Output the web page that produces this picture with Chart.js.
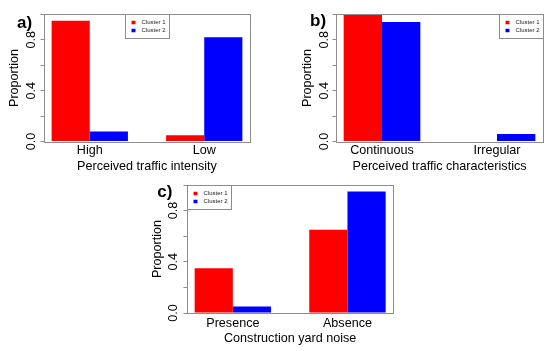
<!DOCTYPE html>
<html>
<head>
<meta charset="utf-8">
<script src="https://cdn.jsdelivr.net/npm/chart.js@4"></script>
<style>
  body { margin: 0; background: #fff; }
  #wrap { position: relative; width: 550px; height: 351px; }
  canvas { position: absolute; }
</style>
</head>
<body>
<div id="wrap">
  <canvas id="chartA" width="275" height="175" style="left:0;top:0"></canvas>
  <canvas id="chartB" width="275" height="175" style="left:275px;top:0"></canvas>
  <canvas id="chartC" width="275" height="176" style="left:140px;top:175px"></canvas>
</div>
<script>
const seriesNames = ["Cluster 1", "Cluster 2"];
const seriesColors = ["#ff0000", "#0000ff"];

const intensityLabels = ["High", "Low"];
const intensityC1 = [0.95, 0.05];
const intensityC2 = [0.08, 0.82];

const characterLabels = ["Continuous", "Irregular"];
const characterC1 = [1.0, 0.0];
const characterC2 = [0.94, 0.06];

const yardLabels = ["Presence", "Absence"];
const yardC1 = [0.35, 0.65];
const yardC2 = [0.05, 0.95];

const yTicks = [0, 0.2, 0.4, 0.6, 0.8, 1.0];
const yTickLabels = ["0.0", "", "0.4", "", "0.8", ""];

Chart.defaults.font.family = '"Liberation Sans", Arial, sans-serif';
Chart.defaults.font.size = 12.6;
Chart.defaults.color = "#000";

// frame, small legend box and panel letter, drawn the way R does it
const rDecor = {
  id: "rDecor",
  afterDraw(chart, args, o) {
    const ctx = chart.ctx, a = chart.chartArea;
    ctx.save();
    ctx.strokeStyle = "#8c8c8c";
    ctx.lineWidth = 1;
    const l = Math.round(a.left) + 0.5, t = Math.round(a.top) + 0.5;
    ctx.strokeRect(l, t, Math.round(a.right) - Math.round(a.left), Math.round(a.bottom) - Math.round(a.top));

    ctx.font = '6px "Liberation Sans", Arial, sans-serif';
    const sets = chart.data.datasets;
    const tw = Math.max(...sets.map(d => ctx.measureText(d.label).width));
    const w = Math.round(tw + 20), h = Math.round(sets.length * 8 + 7.5);
    let lx = (a.left + a.right - w) / 2;
    if (o.legend === "topleft") lx = a.left;
    if (o.legend === "topright") lx = a.right - w;
    lx = Math.round(lx) + 0.5;
    ctx.strokeRect(lx, t, w, h);
    ctx.textBaseline = "middle";
    sets.forEach((d, i) => {
      const cy = t + 8 + i * 8;
      ctx.fillStyle = d.backgroundColor;
      ctx.fillRect(lx + 6, cy - 1.75, 4, 3.5);
      ctx.fillStyle = "#222";
      ctx.fillText(d.label, lx + 16, cy);
    });

    ctx.font = 'bold 17px "Liberation Sans", Arial, sans-serif';
    ctx.fillStyle = "#000";
    ctx.textBaseline = "alphabetic";
    ctx.fillText(o.tag, a.left + o.tagDx, a.top + o.tagDy);
    ctx.restore();
  }
};

function panel(id, cats, c1, c2, xTitle, o) {
  // R barplot layout: two bars per group, one bar of space between groups
  const pos = i => i * 3 + 2;
  new Chart(document.getElementById(id), {
    type: "bar",
    data: {
      datasets: [c1, c2].map((vals, k) => ({
        label: seriesNames[k],
        data: vals.map((v, i) => ({ x: pos(i), y: v })),
        backgroundColor: seriesColors[k],
        borderWidth: 0,
        categoryPercentage: 2 / 3,
        barPercentage: 1
      }))
    },
    options: {
      responsive: false,
      animation: false,
      layout: { padding: { top: o.top, right: o.right, left: 0, bottom: 0 } },
      plugins: {
        legend: { display: false },
        tooltip: { enabled: false },
        rDecor: { legend: o.legend, tag: o.tag, tagDx: o.tagDx, tagDy: o.tagDy }
      },
      scales: {
        x: {
          type: "linear", min: 0.8, max: 6.2, offset: false,
          grid: { display: false, drawTicks: false },
          border: { display: false },
          afterBuildTicks: s => { s.ticks = cats.map((c, i) => ({ value: pos(i) })); },
          afterFit: s => { s.height = o.xh; },
          ticks: { padding: o.xlp, maxRotation: 0, autoSkip: false, callback: v => cats[(v - 2) / 3] },
          title: { display: true, text: xTitle, padding: { top: 0, bottom: o.xtp } }
        },
        y: {
          min: 0, max: 1,
          afterBuildTicks: s => { s.ticks = yTicks.map(v => ({ value: v })); },
          afterFit: s => { s.width = o.yw; },
          grid: { drawOnChartArea: false, tickLength: 3.5, color: "#8c8c8c" },
          border: { display: false },
          ticks: { minRotation: 90, maxRotation: 90, crossAlign: "center", padding: o.ytp, autoSkip: false,
                   callback: (v, i) => yTickLabels[i] },
          title: { display: true, text: "Proportion", padding: { top: o.ttp, bottom: 0 } }
        }
      }
    },
    plugins: [rDecor]
  });
}

panel("chartA", intensityLabels, intensityC1, intensityC2, "Perceived traffic intensity",
  { top: 14.3, right: 25, yw: 44, xh: 33.4, xlp: 1.5, xtp: 1.1, ttp: 7.4, ytp: 0,
    legend: "top", tag: "a)", tagDx: -27, tagDy: 13.4 });

panel("chartB", characterLabels, characterC1, characterC2, "Perceived traffic characteristics",
  { top: 14.3, right: 7, yw: 61, xh: 33.4, xlp: 1.5, xtp: 1.1, ttp: 24.5, ytp: -0.5,
    legend: "topright", tag: "b)", tagDx: -26, tagDy: 11.2 });

panel("chartC", yardLabels, yardC1, yardC2, "Construction yard noise",
  { top: 10, right: 21.7, yw: 47, xh: 38, xlp: 2.6, xtp: 5.4, ttp: 10.3, ytp: 1.2,
    legend: "topleft", tag: "c)", tagDx: -29.7, tagDy: 12.4 });
</script>
</body>
</html>
